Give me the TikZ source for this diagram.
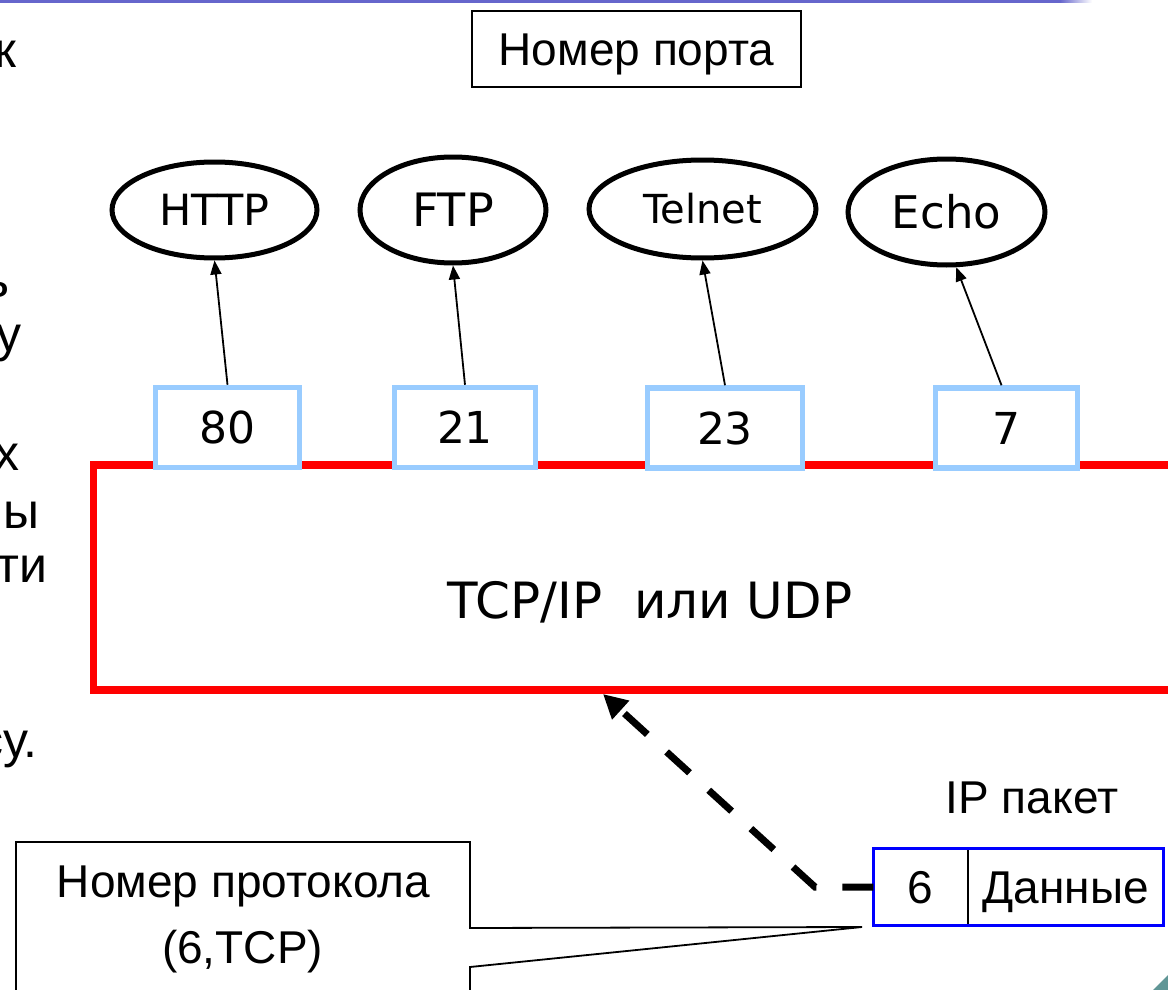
\documentclass[tikz,border=0pt]{standalone}
\usepackage{fontspec}
\setmainfont{Liberation Sans}
\newfontfamily\comic{DejaVu Sans}
\usetikzlibrary{shapes.geometric,arrows.meta}
\definecolor{portblue}{RGB}{153,204,255}
\definecolor{barblue}{RGB}{102,102,204}
\definecolor{tealcorner}{RGB}{96,150,150}
\definecolor{ipblue}{RGB}{0,0,255}
\newcommand{\setfs}[1]{\fontsize{#1}{#1}\selectfont}
\begin{document}
\begin{tikzpicture}[x=1pt,y=-1pt,
  app/.style={ellipse,draw,line width=5pt,inner sep=0pt},
  port/.style={draw=portblue,line width=5.5pt,fill=white,inner sep=0pt,minimum height=80pt,font=\comic\setfs{44}},
  link/.style={line width=1.8pt,-{Triangle[length=14pt,width=11pt]}},
  lbl/.style={font=\setfs{46},inner sep=0pt},
  frag/.style={font=\setfs{50},inner sep=0pt,anchor=base east},
  dasharrow/.style={line width=7pt,dash pattern=on 31pt off 26pt,-{Triangle[length=24pt,width=24pt]}},
  callout/.style={line width=1.8pt,line join=miter}
]
\useasboundingbox (0,0) rectangle (1168,990);
\clip (0,0) rectangle (1168,990);

% slide decorations
\fill[barblue] (0,0) rectangle (1060,3);
\shade[left color=barblue,right color=white] (1060,0) rectangle (1092,3);
\fill[tealcorner] (1153,990) -- (1168,975) -- (1168,990) -- cycle;

% cut-off slide text on the left (cut in the reference too)
\node[frag] (f1) at (17,67) {к};
\node[frag] (f2) at (10,297) {ь};
\node[frag] (f3) at (22,351) {у};
\node[frag] (f4) at (20,470) {х};
\node[frag] (f5) at (40,528) {ы};
\node[frag] (f6) at (48,582) {ти};
\node[frag] (f7) at (38,757) {су.};

% port label
\node[draw,line width=1.8pt,minimum width=329pt,minimum height=76pt,lbl,text height=33pt,text depth=0pt] (portlbl) at (636.5,49) {Номер порта};

% protocol stack
\node[draw=red,line width=7.5pt,minimum width=1110pt,minimum height=225pt,inner sep=0pt,outer sep=0pt,anchor=north west] (stack) at (93.5,465) {};
\node[font=\comic\setfs{50},anchor=base,inner sep=0pt] (stacklbl) at (650,618) {TCP/IP\ \ или UDP};

% applications
\node[app,minimum width=205pt,minimum height=96pt,font=\comic\setfs{43}] (http) at (214.5,210) {HTTP};
\node[app,minimum width=186pt,minimum height=106pt,font=\comic\setfs{46}] (ftp) at (453,210) {FTP};
\node[app,minimum width=227pt,minimum height=98pt,font=\comic\setfs{40}] (telnet) at (702.5,209) {Telnet};
\node[app,minimum width=197pt,minimum height=106pt,font=\comic\setfs{45}] (echo) at (946.5,212) {Echo};

% ports
\node[port,minimum width=144pt] (p80) at (227.5,427.5) {80};
\node[port,minimum width=141pt] (p21) at (465,427.5) {21};
\node[port,minimum width=155pt] (p23) at (725,428) {23};
\node[port,minimum width=142pt] (p7) at (1006.5,428) {7};

\draw[link] (p80.north) -- (http.south);
\draw[link] (p21.north) -- (ftp.south);
\draw[link] (p23.north) -- (telnet.south);
\draw[link] ([xshift=-5pt]p7.north) -- (echo.-80);

% IP packet
\node[lbl,anchor=base] (iplbl) at (1032,813) {IP пакет};
\node[lbl,minimum width=94.5pt,minimum height=77pt,text height=33pt,text depth=0pt] (ipnum) at (920.75,887) {6};
\node[lbl,minimum width=195.5pt,minimum height=77pt,text height=33pt,text depth=0pt] (ipdata) at (1065.75,887) {Данные};
\draw[line width=1.8pt] (ipnum.north east) -- (ipnum.south east);
\draw[ipblue,line width=3.5pt] (ipnum.north west) rectangle (ipdata.south east);

% dashed arrow from the packet to the stack
\coordinate (bend) at (815,887);
\coordinate (tip) at (603,694);
\draw[dasharrow] (ipnum.west) -- (bend) -- (tip);

% callout
\coordinate (calltip) at (862,927);
\draw[callout] (16,1000) -- (16,842) -- (470,842) -- (470,928) -- (calltip) -- (470,967) -- (470,1000);
\node[lbl,anchor=base] (proto1) at (243.5,897) {Номер протокола};
\node[lbl,anchor=base] (proto2) at (242.5,963) {(6,TCP)};
\end{tikzpicture}
\end{document}
